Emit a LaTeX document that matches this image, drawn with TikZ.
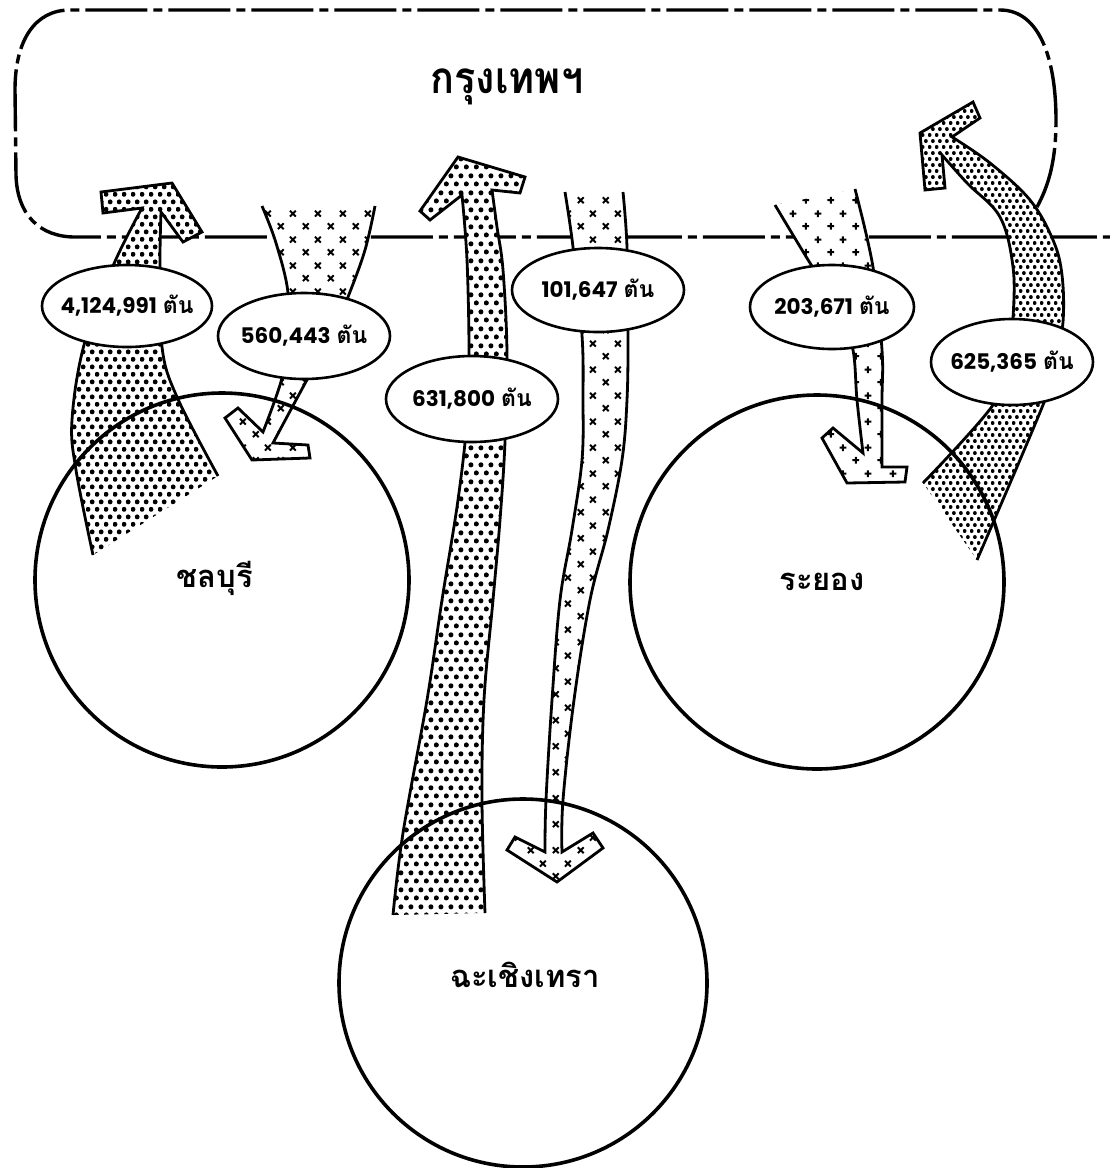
\documentclass[tikz,border=0pt]{standalone}
\usepackage{fontspec}
\newfontfamily\thaifont[Script=Thai]{Loma}
\newfontfamily\numfont{Poppins}
\usetikzlibrary{shapes.geometric,patterns.meta}

\tikzdeclarepattern{
  name=dotsA, type=uncolored,
  bounding box={(0pt,0pt) and (8.6pt,14.9pt)},
  tile size={(8.6pt,14.9pt)},
  code={\fill (2.15pt,3.72pt) circle (2.5pt); \fill (6.45pt,11.17pt) circle (2.5pt);}
}
\tikzdeclarepattern{
  name=dotsC, type=uncolored,
  bounding box={(0pt,0pt) and (9.6pt,16.6pt)},
  tile size={(9.6pt,16.6pt)},
  code={\fill (2.4pt,4.15pt) circle (2.6pt); \fill (7.2pt,12.45pt) circle (2.6pt);}
}
\tikzdeclarepattern{
  name=dotsF, type=uncolored,
  bounding box={(0pt,0pt) and (7.2pt,12.47pt)},
  tile size={(7.2pt,12.47pt)},
  code={\fill (1.8pt,3.12pt) circle (2.1pt); \fill (5.4pt,9.35pt) circle (2.1pt);}
}
\tikzdeclarepattern{
  name=crossX, type=uncolored,
  bounding box={(0pt,0pt) and (25pt,26pt)},
  tile size={(25pt,26pt)},
  code={\draw[line width=2pt] (3pt,3pt) -- (9pt,9pt) (3pt,9pt) -- (9pt,3pt)
        (15.5pt,16pt) -- (21.5pt,22pt) (15.5pt,22pt) -- (21.5pt,16pt);}
}
\tikzdeclarepattern{
  name=crossP, type=uncolored,
  bounding box={(0pt,0pt) and (25pt,26pt)},
  tile size={(25pt,26pt)},
  code={\draw[line width=2pt] (2.5pt,6pt) -- (9.5pt,6pt) (6pt,2.5pt) -- (6pt,9.5pt)
        (15pt,19pt) -- (22pt,19pt) (18.5pt,15.5pt) -- (18.5pt,22.5pt);}
}

\tikzset{
  arrowline/.style={line width=2.8pt, line join=miter, miter limit=6},
  boxline/.style={line width=3.4pt, dash pattern=on 62pt off 6pt on 9pt off 6pt},
  townring/.style={circle, draw, line width=3.6pt, inner sep=0pt},
  amount/.style={ellipse, draw, fill=white, line width=2.6pt, inner sep=0pt,
    font=\numfont\bfseries\fontsize{21.5}{24}\selectfont},
  townname/.style={anchor=base, inner sep=0pt, font=\thaifont\bfseries\fontsize{31}{34}\selectfont},
}
\newcommand\tonne{\hspace{6pt}{\thaifont\bfseries\fontsize{23}{25}\selectfont ตัน}}

\def\pathA{plot[smooth,tension=0.6] coordinates {(93,555) (76,470) (72,420) (84,345) (113,266) (142,208)}
  -- (103,213) -- (101,192) -- (172,183) -- (202,232) -- (183,242)
  -- plot[smooth,tension=0.6] coordinates {(161,212) (160,265) (162,347) (177,397) (218,476)}}
\def\pathB{plot[smooth,tension=0.6] coordinates {(262,206) (276,243) (288,293) (286,340) (282,378) (263,432)}
  -- (238,408) -- (225,418) -- (252,460) -- (310,458) -- (308,445)
  -- plot[smooth,tension=0.6] coordinates {(273,443) (308,378) (330,340) (348,297) (365,250) (375,206)}}
\def\pathC{plot[smooth,tension=0.6] coordinates {(393,915) (403,833) (427,700) (442,600) (458,500) (467,420) (469,353) (467,260) (462,195)}
  -- (430,220) -- (420,211) -- (458,157) -- (525,177) -- (520,193)
  -- plot[smooth,tension=0.6] coordinates {(492,190) (497,227) (503,270) (507,353) (505,442) (500,520) (493,600) (484,700) (482,800) (485,913)}}
\def\pathD{plot[smooth,tension=0.6] coordinates {(565,192) (573,247) (582,335) (583,400) (582,460) (572,530) (560,600) (552,700) (546,800) (545,852)}
  -- (515,837) -- (507,850) -- (557,882) -- (603,848) -- (593,833)
  -- plot[smooth,tension=0.6] coordinates {(562,852) (563,800) (574,700) (590,600) (608,530) (622,460) (627,400) (628,335) (627,247) (623,192)}}
\def\pathE{plot[smooth,tension=0.6] coordinates {(775,205) (810,263) (840,310) (853,350) (857,400) (863,453)}
  -- (833,428) -- (822,438) -- (847,483) -- (905,482) -- (907,467)
  -- plot[smooth,tension=0.6] coordinates {(882,467) (882,400) (882,350) (873,267) (855,189)}}
\def\pathF{plot[smooth,tension=0.6] coordinates {(923,483) (993,405) (1008,360) (1013,318) (1013,267) (1000,217) (967,183) (942,155)}
  -- (945,188) -- (925,190) -- (920,133) -- (973,102) -- (980,118)
  -- plot[smooth,tension=0.6] coordinates {(952,137) (990,163) (1030,200) (1053,240) (1062,275) (1063,322) (1055,365) (1043,405) (977,560)}}

\begin{document}
\begin{tikzpicture}[x=1pt,y=-1pt]
\useasboundingbox[fill=white] (0,0) rectangle (1110,1168);

% Bangkok region
\draw[boxline] (1037,207) .. controls (1049,185) and (1056,160) .. (1056,120)
  .. controls (1056,60) and (1040,10) .. (1000,10) -- (70,10)
  .. controls (35,10) and (15,40) .. (15,90) -- (16,175)
  .. controls (17,215) and (40,237) .. (75,237) -- (1110,237);
\node[anchor=base, inner sep=0pt, font=\thaifont\bfseries\fontsize{44}{48}\selectfont] (bkk) at (507,93) {\scalebox{0.9}[1]{กรุงเทพฯ}};

% flows
\fill[white] \pathA -- cycle; \fill[pattern=dotsA] \pathA -- cycle; \draw[arrowline] \pathA;
\fill[white] \pathB -- cycle; \fill[pattern=crossX] \pathB -- cycle; \draw[arrowline] \pathB;
\fill[white] \pathC -- cycle; \fill[pattern=dotsC] \pathC -- cycle; \draw[arrowline] \pathC;
\fill[white] \pathD -- cycle; \fill[pattern=crossX] \pathD -- cycle; \draw[arrowline] \pathD;
\fill[white] \pathE -- cycle; \fill[pattern=crossP] \pathE -- cycle; \draw[arrowline] \pathE;
\fill[white] \pathF -- cycle; \fill[pattern=dotsF] \pathF -- cycle; \draw[arrowline] \pathF;

% provinces
\node[townring, minimum size=374pt] (chon) at (222,580) {};
\node[townring, minimum size=374pt] (rayong) at (817,582) {};
\node[townring, minimum size=368pt] (chach) at (523,983) {};
\node[townname] (chonname) at (215,587) {ชลบุรี};
\node[townname] (rayongname) at (822,590) {ระยอง};
\node[townname] (chachname) at (525,987) {ฉะเชิงเทรา};

% amounts
\node[amount, minimum width=170pt, minimum height=82pt] (e1) at (127,306) {\makebox[0pt]{4,124,991\tonne}};
\node[amount, minimum width=172pt, minimum height=86pt] (e2) at (304,336) {\makebox[0pt]{560,443\tonne}};
\node[amount, minimum width=172pt, minimum height=86pt] (e3) at (472,399) {\makebox[0pt]{631,800\tonne}};
\node[amount, minimum width=172pt, minimum height=84pt] (e4) at (598,290) {\makebox[0pt]{101,647\tonne}};
\node[amount, minimum width=164pt, minimum height=84pt] (e5) at (832,307) {\makebox[0pt]{203,671\tonne}};
\node[amount, minimum width=162pt, minimum height=86pt] (e6) at (1012,362) {\makebox[0pt]{625,365\tonne}};
\end{tikzpicture}
\end{document}
